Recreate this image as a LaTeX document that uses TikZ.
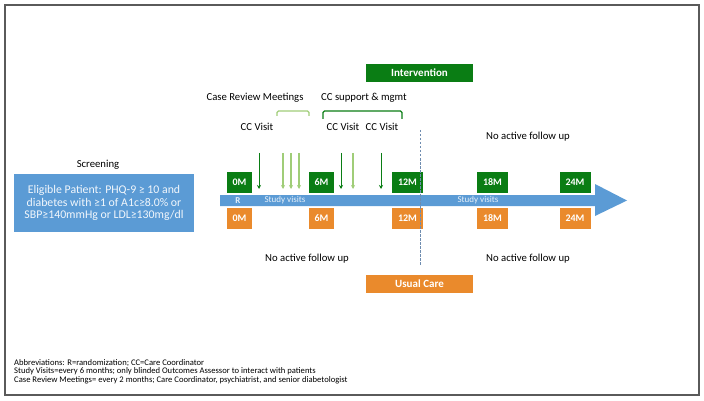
\documentclass[tikz,border=0pt]{standalone}
\usepackage{fontspec}
\setmainfont{Carlito}
\usetikzlibrary{arrows.meta}
\definecolor{dgreen}{RGB}{10,125,20}
\definecolor{lgreen}{RGB}{160,205,120}
\definecolor{aorange}{RGB}{234,138,44}
\definecolor{ablue}{RGB}{91,155,213}
\definecolor{dashblue}{RGB}{110,140,175}
\definecolor{framegray}{RGB}{90,90,90}
\begin{document}
\begin{tikzpicture}[x=1pt,y=-1pt,
  gbox/.style={fill=dgreen,text=white,font=\fontsize{10}{11}\selectfont\bfseries,minimum height=21pt,inner sep=0pt},
  obox/.style={fill=aorange,text=white,font=\fontsize{10}{11}\selectfont\bfseries,minimum height=21pt,inner sep=0pt},
  lbl/.style={font=\fontsize{10.7}{12}\selectfont,inner sep=0pt},
  onarrow/.style={text=white!85!ablue,font=\fontsize{9}{10}\selectfont,inner sep=0pt},
  darr/.style={dgreen,line width=1pt,-{Stealth[length=4pt,width=4pt]}},
  larr/.style={lgreen,line width=1.1pt,-{Stealth[length=4pt,width=4pt]}},
  note/.style={font=\fontsize{8.6}{9}\selectfont,inner sep=0pt,anchor=west}]
\useasboundingbox (0,0) rectangle (704,401);
\draw[framegray,line width=1.6pt] (5,5) rectangle (699,395);
% blue timeline arrow
\fill[ablue] (220,195) -- (595,195) -- (595,184) -- (627,200.5) -- (595,216) -- (595,206) -- (220,206) -- cycle;
% screening
\node[lbl] (scr) at (98,165) {Screening};
\node[fill=ablue,text=white!92!ablue,minimum width=180pt,minimum height=58pt,inner sep=0pt,align=center,font=\fontsize{11.8}{12.6}\selectfont] (elig) at (104,203)
 {Eligible Patient: PHQ-9 ≥ 10 and\\diabetes with ≥1 of A1c≥8.0\% or\\SBP≥140mmHg or LDL≥130mg/dl};
% green boxes
\node[gbox,minimum width=25pt] (g0) at (239.5,182.5) {0M};
\node[gbox,minimum width=25pt] (g6) at (321.5,182.5) {6M};
\node[gbox,minimum width=31pt] (g12) at (407.5,182.5) {12M};
\node[gbox,minimum width=31pt] (g18) at (492.5,182.5) {18M};
\node[gbox,minimum width=31pt] (g24) at (575,182.5) {24M};
% orange boxes
\node[obox,minimum width=25pt] (o0) at (239.5,218.5) {0M};
\node[obox,minimum width=25pt] (o6) at (321.5,218.5) {6M};
\node[obox,minimum width=31pt] (o12) at (407.5,218.5) {12M};
\node[obox,minimum width=31pt] (o18) at (492.5,218.5) {18M};
\node[obox,minimum width=31pt] (o24) at (575,218.5) {24M};
% labels on arrow
\node[onarrow,font=\fontsize{9}{10}\selectfont\bfseries] (r) at (238,200.5) {R};
\node[onarrow] (sv1) at (285,200.5) {Study visits};
\node[onarrow] (sv2) at (478,200.5) {Study visits};
% intervention / usual care
\node[fill=dgreen,text=white,font=\fontsize{11}{12}\selectfont\bfseries,minimum width=107pt,minimum height=18pt,inner sep=0pt] (int) at (419.5,73) {Intervention};
\node[fill=aorange,text=white,font=\fontsize{11}{12}\selectfont\bfseries,minimum width=107pt,minimum height=18pt,inner sep=0pt] (uc) at (419.5,284) {Usual Care};
% headers
\node[lbl] (crm) at (255,98) {Case Review Meetings};
\node[lbl] (ccs) at (364,98) {CC support \& mgmt};
\draw[lgreen,line width=1.3pt,rounded corners=1.5pt] (277,116) -- (277,111) -- (309,111) -- (309,116);
\draw[dgreen,line width=1.3pt,rounded corners=1.5pt] (323,119) -- (323,111) -- (402,111) -- (402,119);
\node[lbl] (cc1) at (257,127) {CC Visit};
\node[lbl] (cc2) at (343,127) {CC Visit};
\node[lbl] (cc3) at (382,127) {CC Visit};
\node[lbl] (naf1) at (528,137) {No active follow up};
\node[lbl] (naf2) at (307,259) {No active follow up};
\node[lbl] (naf3) at (528,259) {No active follow up};
% dashed divider
\coordinate (dtop) at (420,130);
\coordinate (dbot) at (420,265);
\draw[dashblue,line width=1pt,dash pattern=on 2.5pt off 1.5pt] (dtop) -- (dbot);
% visit arrows
\foreach \x/\s in {259/darr,283/larr,291/larr,299/larr,341/darr,353/larr,381/darr}{
  \coordinate (a\x) at (\x,153);
  \coordinate (b\x) at (\x,189);
  \draw[\s] (a\x) -- (b\x);
}
% notes
\node[note] (n1) at (14,363) {Abbreviations:  R=randomization; CC=Care Coordinator};
\node[note] (n2) at (14,371.5) {Study Visits=every 6 months;  only blinded Outcomes Assessor to interact with patients};
\node[note] (n3) at (14,380) {Case Review Meetings= every 2 months;  Care Coordinator,  psychiatrist, and senior diabetologist};
\end{tikzpicture}
\end{document}
